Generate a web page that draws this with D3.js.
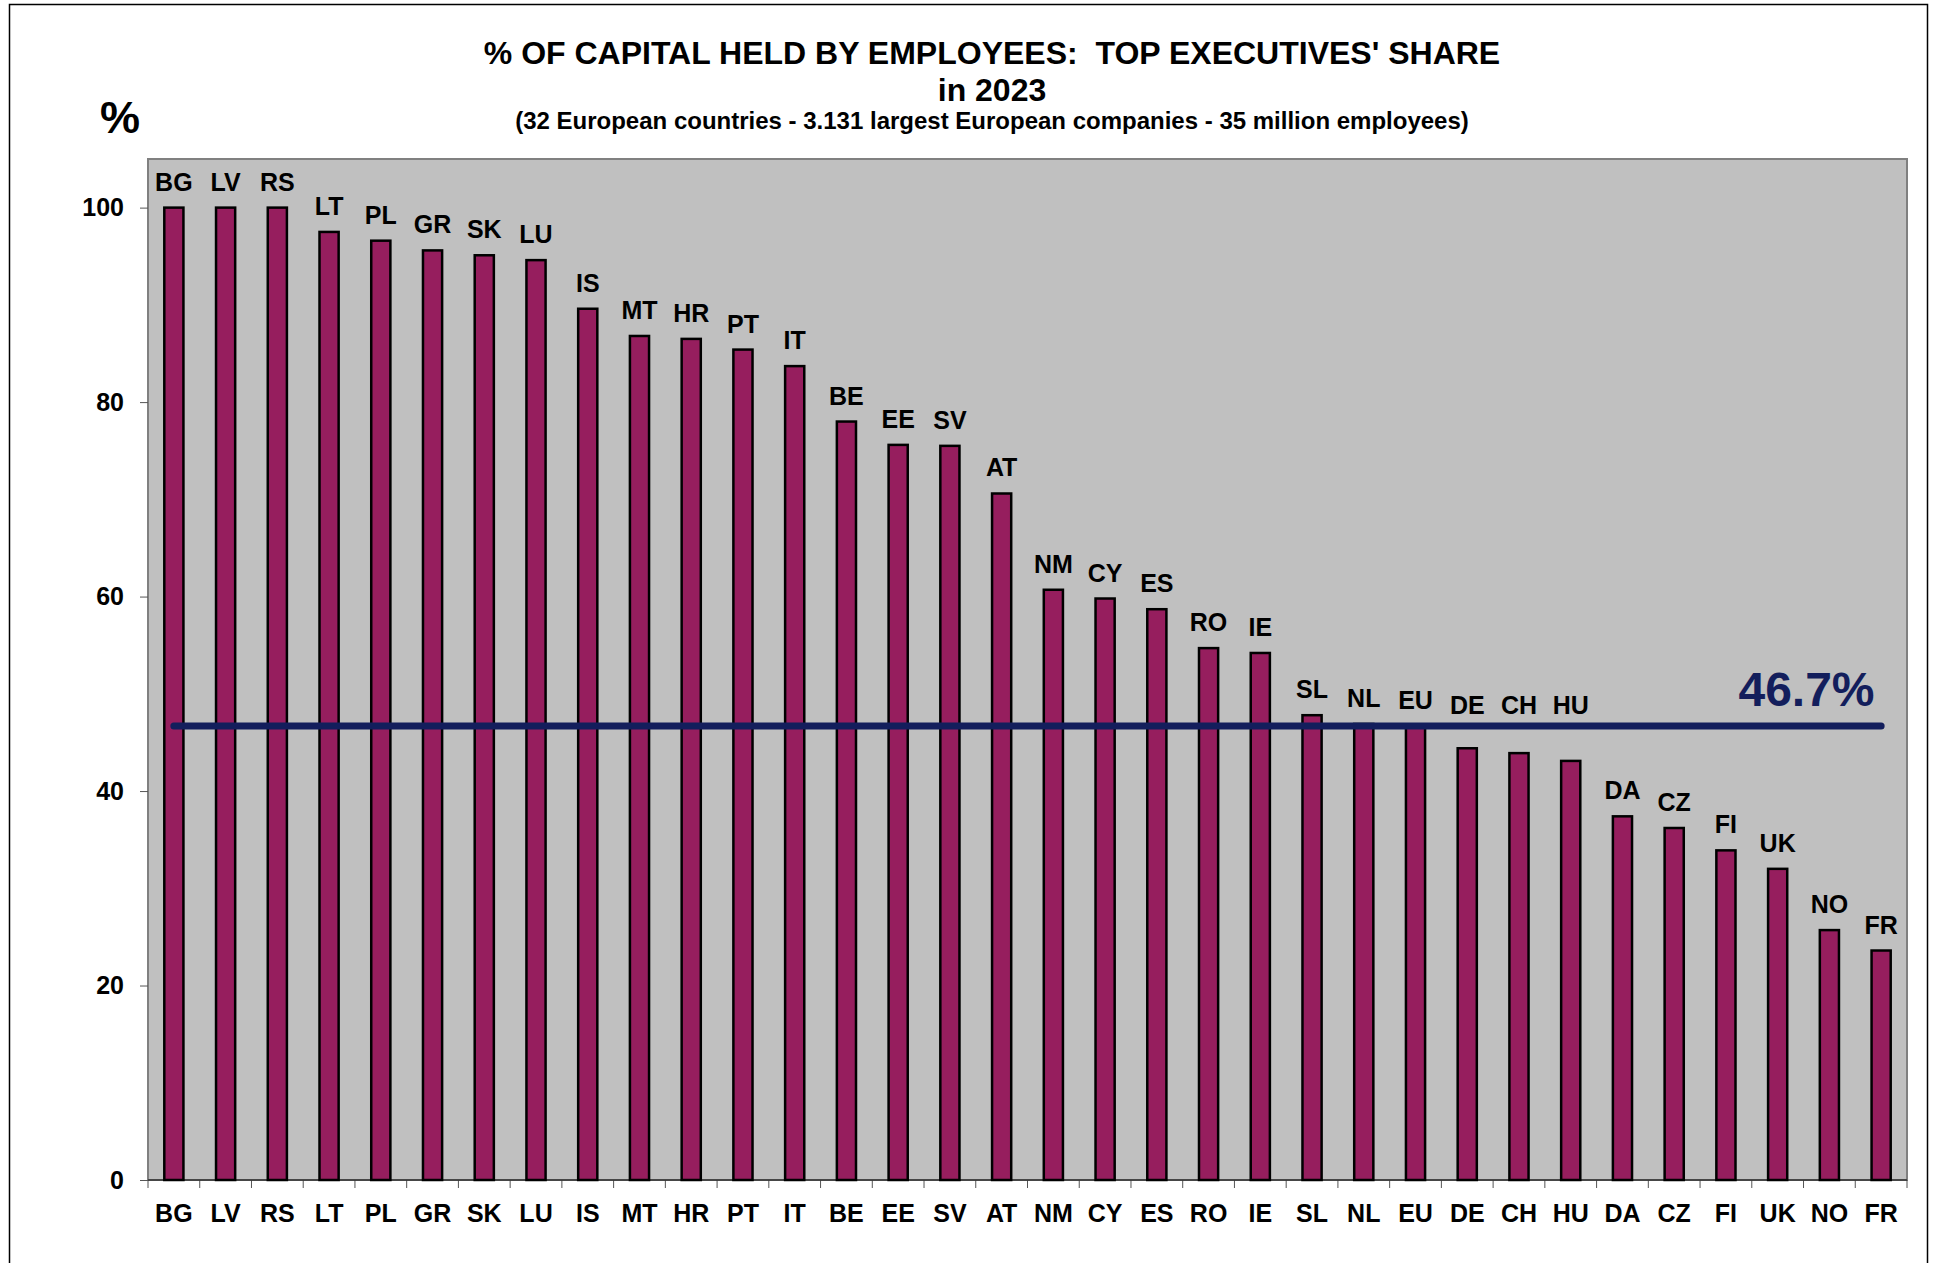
<!DOCTYPE html>
<html>
<head>
<meta charset="utf-8">
<script src="https://cdn.jsdelivr.net/npm/d3@7"></script>
<style>
    body { margin: 0; background: #fff; }
    text { font-family: "Liberation Sans", Arial, sans-serif; font-weight: bold; }
</style>
</head>
<body>
<div id="chart"></div>
<script>
// country codes, left to right
var countries = ["BG", "LV", "RS", "LT", "PL", "GR", "SK", "LU", "IS", "MT", "HR", "PT", "IT",
    "BE", "EE", "SV", "AT", "NM", "CY", "ES", "RO", "IE", "SL", "NL", "EU", "DE", "CH", "HU",
    "DA", "CZ", "FI", "UK", "NO", "FR"];
// % of employee-held capital held by top executives
var shares = [100, 100, 100, 97.5, 96.6, 95.6, 95.1, 94.6, 89.6, 86.8, 86.5, 85.4, 83.7,
    78.0, 75.6, 75.5, 70.6, 60.7, 59.8, 58.7, 54.7, 54.2, 47.8, 46.9, 46.7, 44.4, 43.9, 43.1,
    37.4, 36.2, 33.9, 32.0, 25.7, 23.6];
var yTicks = [0, 20, 40, 60, 80, 100];
var average = 46.7;

(function () {
    var W = 1934, H = 1263;
    // plot area inside the frame
    var margin = { top: 159, right: 27, bottom: 83, left: 148 },
        width = W - margin.left - margin.right,
        height = H - margin.top - margin.bottom;

    var data = countries.map(function (c, i) { return { name: c, value: shares[i] }; });

    var svg = d3.select("#chart")
        .append("svg")
        .attr("width", W)
        .attr("height", H);

    // outer frame
    svg.append("rect")
        .attr("x", 9.5).attr("y", 4.5)
        .attr("width", 1918).attr("height", 1270)
        .attr("fill", "none")
        .attr("stroke", "#000")
        .attr("stroke-width", 1.5);

    // titles
    svg.append("text")
        .attr("x", 992).attr("y", 64)
        .attr("text-anchor", "middle")
        .attr("xml:space", "preserve")
        .style("font-size", "32px")
        .text("% OF CAPITAL HELD BY EMPLOYEES:  TOP EXECUTIVES' SHARE");
    svg.append("text")
        .attr("x", 992).attr("y", 101)
        .attr("text-anchor", "middle")
        .style("font-size", "32px")
        .text("in 2023");
    svg.append("text")
        .attr("x", 992).attr("y", 129)
        .attr("text-anchor", "middle")
        .style("font-size", "24px")
        .text("(32 European countries - 3.131 largest European companies - 35 million employees)");
    svg.append("text")
        .attr("x", 120).attr("y", 133)
        .attr("text-anchor", "middle")
        .style("font-size", "45px")
        .text("%");

    var g = svg.append("g")
        .attr("transform", "translate(" + margin.left + "," + margin.top + ")");

    var x = d3.scaleBand()
        .domain(countries)
        .range([0, width])
        .paddingInner(0.63)
        .paddingOuter(0.315);

    var y = d3.scaleLinear()
        .domain([0, 105])
        .range([height, 0]);

    // grey plot background
    g.append("rect")
        .attr("width", width)
        .attr("height", height)
        .attr("fill", "#c0c0c0")
        .attr("stroke", "#808080")
        .attr("stroke-width", 2);

    // Y axis
    var yAxis = g.append("g")
        .call(d3.axisLeft(y).tickValues(yTicks).tickSize(8).tickPadding(16));
    yAxis.select(".domain").remove();
    yAxis.selectAll(".tick line").attr("stroke", "#555");
    yAxis.selectAll("text")
        .style("font-size", "25px")
        .attr("fill", "#000");

    // X axis: labels under each bar, ticks between categories
    var xAxis = g.append("g")
        .attr("transform", "translate(0," + height + ")")
        .call(d3.axisBottom(x).tickSize(0).tickPadding(24));
    xAxis.select(".domain").remove();
    xAxis.selectAll("text")
        .style("font-size", "25px")
        .attr("fill", "#000");

    var step = x.step();
    g.selectAll("xtick")
        .data(d3.range(countries.length + 1))
        .enter()
        .append("line")
        .attr("x1", function (i) { return i * step; })
        .attr("x2", function (i) { return i * step; })
        .attr("y1", height)
        .attr("y2", height + 8)
        .attr("stroke", "#555");
    g.append("line")
        .attr("x1", 0).attr("x2", width)
        .attr("y1", height).attr("y2", height)
        .attr("stroke", "#333")
        .attr("stroke-width", 1.5);

    // bars
    g.selectAll("mybar")
        .data(data)
        .enter()
        .append("rect")
        .attr("x", function (d) { return x(d.name); })
        .attr("y", function (d) { return y(d.value); })
        .attr("width", x.bandwidth())
        .attr("height", function (d) { return height - y(d.value); })
        .attr("fill", "#961e5e")
        .attr("stroke", "#000")
        .attr("stroke-width", 2.5);

    // labels above bars, lifted clear of the average line where they would cross it
    var yAvg = y(average);
    function labelY(d) {
        var base = y(d.value) - 17;
        if (base > yAvg - 12 && base - 18 < yAvg + 4) base = yAvg - 12;
        return base;
    }
    g.selectAll("mylabel")
        .data(data)
        .enter()
        .append("text")
        .attr("x", function (d) { return x(d.name) + x.bandwidth() / 2; })
        .attr("y", labelY)
        .attr("text-anchor", "middle")
        .style("font-size", "25px")
        .text(function (d) { return d.name; });

    // European average line
    var first = countries[0], last = countries[countries.length - 1];
    g.append("line")
        .attr("x1", x(first) + x.bandwidth() / 2)
        .attr("x2", x(last) + x.bandwidth() / 2)
        .attr("y1", yAvg)
        .attr("y2", yAvg)
        .attr("stroke", "#131e5c")
        .attr("stroke-width", 7)
        .attr("stroke-linecap", "round");
    g.append("text")
        .attr("x", x(last) + 3)
        .attr("y", yAvg - 20)
        .attr("text-anchor", "end")
        .attr("fill", "#131e5c")
        .style("font-size", "48px")
        .text(average + "%");
})();
</script>
</body>
</html>
